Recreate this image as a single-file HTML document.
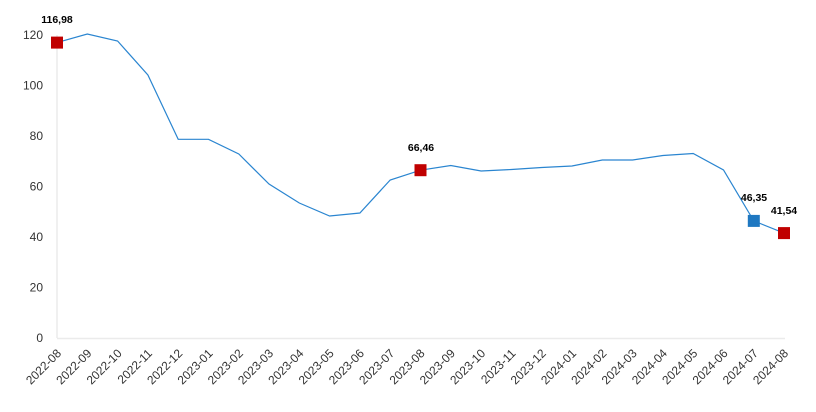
<!DOCTYPE html>
<html><head><meta charset="utf-8"><style>
html,body{margin:0;padding:0;background:#fff;}
svg{display:block;}
text{font-family:"Liberation Sans",Arial,sans-serif;}
</style></head><body>
<svg width="816" height="412" viewBox="0 0 816 412" xmlns="http://www.w3.org/2000/svg">
<line x1="57" y1="35" x2="57" y2="338" stroke="#e0e0e0" stroke-width="1"/>
<line x1="57" y1="338.5" x2="785" y2="338.5" stroke="#ebebeb" stroke-width="1.5"/>
<g font-size="12" fill="#333" text-anchor="end">
<text x="43" y="342">0</text>
<text x="43" y="291.5">20</text>
<text x="43" y="241">40</text>
<text x="43" y="190.5">60</text>
<text x="43" y="140">80</text>
<text x="43" y="89.5">100</text>
<text x="43" y="39">120</text>
</g>
<polyline fill="none" stroke="#2a85d0" stroke-width="1.2" points="57,42.6 87.3,34 117.6,41 147.9,75 178.2,139.3 208.5,139.3 238.8,154 269,184 299.3,203 329.6,216 359.9,213 390.2,180 420.5,170.2 450.8,165.5 481.1,171 511.4,169.5 541.7,167.5 572,166 602.3,160 632.6,160 662.9,155.5 693.2,153.5 723.5,170 753.8,220.9 784,233.1"/>
<rect x="51" y="36.6" width="12" height="12" fill="#c00000"/>
<rect x="414.5" y="164.2" width="12" height="12" fill="#c00000"/>
<rect x="747.8" y="214.9" width="12" height="12" fill="#1f78c1"/>
<rect x="778" y="227.1" width="12" height="12" fill="#c00000"/>
<g font-size="10.5" font-weight="bold" fill="#000" text-anchor="middle">
<text x="57" y="23">116,98</text>
<text x="421" y="151">66,46</text>
<text x="754" y="201">46,35</text>
<text x="784" y="214">41,54</text>
</g>
<g font-size="12" fill="#333" text-anchor="end">
<text transform="translate(62,354) rotate(-45)">2022-08</text>
<text transform="translate(92.3,354) rotate(-45)">2022-09</text>
<text transform="translate(122.6,354) rotate(-45)">2022-10</text>
<text transform="translate(152.9,354) rotate(-45)">2022-11</text>
<text transform="translate(183.2,354) rotate(-45)">2022-12</text>
<text transform="translate(213.5,354) rotate(-45)">2023-01</text>
<text transform="translate(243.8,354) rotate(-45)">2023-02</text>
<text transform="translate(274,354) rotate(-45)">2023-03</text>
<text transform="translate(304.3,354) rotate(-45)">2023-04</text>
<text transform="translate(334.6,354) rotate(-45)">2023-05</text>
<text transform="translate(364.9,354) rotate(-45)">2023-06</text>
<text transform="translate(395.2,354) rotate(-45)">2023-07</text>
<text transform="translate(425.5,354) rotate(-45)">2023-08</text>
<text transform="translate(455.8,354) rotate(-45)">2023-09</text>
<text transform="translate(486.1,354) rotate(-45)">2023-10</text>
<text transform="translate(516.4,354) rotate(-45)">2023-11</text>
<text transform="translate(546.7,354) rotate(-45)">2023-12</text>
<text transform="translate(577,354) rotate(-45)">2024-01</text>
<text transform="translate(607.3,354) rotate(-45)">2024-02</text>
<text transform="translate(637.6,354) rotate(-45)">2024-03</text>
<text transform="translate(667.9,354) rotate(-45)">2024-04</text>
<text transform="translate(698.2,354) rotate(-45)">2024-05</text>
<text transform="translate(728.5,354) rotate(-45)">2024-06</text>
<text transform="translate(758.8,354) rotate(-45)">2024-07</text>
<text transform="translate(789,354) rotate(-45)">2024-08</text>
</g>
</svg>
</body></html>
